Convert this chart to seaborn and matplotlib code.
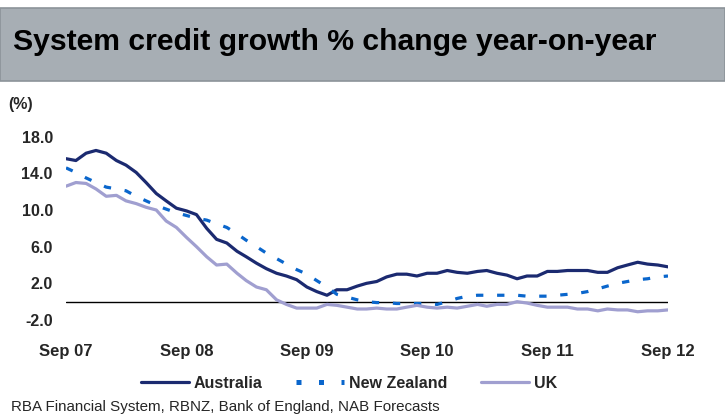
import pandas as pd
import matplotlib.pyplot as plt
from matplotlib.patches import Rectangle
import seaborn as sns

# monthly data, Sep 2007 - Sep 2012 (% change year-on-year)
months = pd.date_range("2007-09-01", periods=61, freq="MS")

australia = [15.6, 15.4, 16.2, 16.5, 16.2, 15.4, 14.9, 14.1, 13.0, 11.8,
             11.0, 10.2, 9.9, 9.5, 8.0, 6.8, 6.4, 5.5, 4.9, 4.2,
             3.6, 3.1, 2.8, 2.4, 1.6, 1.1, 0.7, 1.3, 1.3, 1.7,
             2.0, 2.2, 2.7, 3.0, 3.0, 2.8, 3.1, 3.1, 3.4, 3.2,
             3.1, 3.3, 3.4, 3.1, 2.9, 2.5, 2.8, 2.8, 3.3, 3.3,
             3.4, 3.4, 3.4, 3.2, 3.2, 3.7, 4.0, 4.3, 4.1, 4.0,
             3.8]
new_zealand = [14.6, 14.1, 13.5, 13.0, 12.5, 12.3, 12.1, 11.5, 11.0, 10.5,
               10.1, 9.7, 9.4, 9.1, 8.9, 8.5, 8.1, 7.4, 6.7, 6.0,
               5.3, 4.7, 4.1, 3.5, 3.0, 2.3, 1.6, 0.8, 0.5, 0.2,
               0.0, -0.1, -0.1, -0.2, -0.2, -0.2, -0.2, -0.3, 0.0, 0.35,
               0.6, 0.7, 0.7, 0.7, 0.7, 0.7, 0.6, 0.6, 0.6, 0.7,
               0.8, 0.9, 1.1, 1.4, 1.7, 2.0, 2.2, 2.4, 2.5, 2.7,
               2.8]
uk = [12.6, 13.0, 12.9, 12.3, 11.5, 11.6, 11.0, 10.7, 10.3, 10.0,
      8.8, 8.1, 7.0, 6.0, 4.9, 4.0, 4.1, 3.1, 2.3, 1.6,
      1.3, 0.2, -0.3, -0.7, -0.7, -0.7, -0.3, -0.4, -0.6, -0.8,
      -0.8, -0.7, -0.8, -0.8, -0.6, -0.4, -0.6, -0.7, -0.6, -0.7,
      -0.5, -0.3, -0.5, -0.3, -0.3, 0.0, -0.15, -0.4, -0.6, -0.6,
      -0.6, -0.8, -0.8, -1.0, -0.8, -0.9, -0.9, -1.1, -1.0, -1.0,
      -0.9]

series_names = ["Australia", "New Zealand", "UK"]
y_ticks = [-2.0, 2.0, 6.0, 10.0, 14.0, 18.0]
x_tick_labels = ["Sep 07", "Sep 08", "Sep 09", "Sep 10", "Sep 11", "Sep 12"]

df = pd.DataFrame({"month": months, "Australia": australia,
                   "New Zealand": new_zealand, "UK": uk})
long_df = df.melt(id_vars="month", var_name="series", value_name="value")

colors = {"Australia": "#1b2a70", "New Zealand": "#0a66cc", "UK": "#a09fd0"}
dashes = {"Australia": "", "New Zealand": (2.3, 4.3), "UK": ""}

sns.set_theme(style="white")
plt.rcParams["font.family"] = ["Liberation Sans", "DejaVu Sans"]
plt.rcParams["font.weight"] = "bold"

fig = plt.figure(figsize=(7.25, 4.16), dpi=100)
fig.patch.set_facecolor("white")

# title band
fig.patches.append(Rectangle((0, 1 - 80.5 / 416), 1, 73 / 416, transform=fig.transFigure,
                             facecolor="#a7aeb4", edgecolor="#8c9399", linewidth=1.2))
fig.text(13 / 725, 1 - 42 / 416, "System credit growth % change year-on-year",
         fontsize=21.7, fontweight="bold", va="center", ha="left", color="black")

ax = fig.add_axes([66 / 725, 1 - 320 / 416, (668 - 66) / 725, (320 - 136.7) / 416])
sns.lineplot(data=long_df, x="month", y="value", hue="series", style="series",
             palette=colors, dashes=dashes, linewidth=2.3, ax=ax, legend=False)
for line in ax.lines:
    line.set_dash_capstyle("butt")

ax.axhline(0, color="black", linewidth=1.0, zorder=0)
ax.set_xlim(months[0], months[-1])
ax.set_ylim(-2, 18)
ax.set_yticks(y_ticks)
ax.set_yticklabels([f"{v:.1f}" for v in y_ticks], fontsize=11.5, fontweight="bold")
ax.set_xticks(months[::12])
ax.set_xticklabels(x_tick_labels, fontsize=12, fontweight="bold")
ax.tick_params(axis="y", length=0, pad=9.5)
ax.tick_params(axis="x", length=0, pad=17.5)
ax.set_xlabel("")
ax.set_ylabel("")
for s in ax.spines.values():
    s.set_visible(False)
ax.patch.set_alpha(0)

fig.text(8 / 725, 1 - 105 / 416, "(%)", fontsize=11.5, fontweight="bold", va="center")

handles = [plt.Line2D([], [], color=colors["Australia"], lw=2.3),
           plt.Line2D([], [], color=colors["New Zealand"], lw=3.6, linestyle=(0, (1.0, 3.5))),
           plt.Line2D([], [], color=colors["UK"], lw=2.3)]
fig.legend(handles, series_names, loc="center", bbox_to_anchor=(349 / 725, 1 - 383 / 416),
           ncol=3, frameon=False, handlelength=3.0, handletextpad=0.3, columnspacing=2.1,
           prop={"size": 11.5, "weight": "bold"})

fig.text(11 / 725, 1 - 407.5 / 416, "RBA Financial System, RBNZ, Bank of England, NAB Forecasts",
         fontsize=10.9, fontweight="normal", va="center")

fig.savefig("out.png", dpi=100)
